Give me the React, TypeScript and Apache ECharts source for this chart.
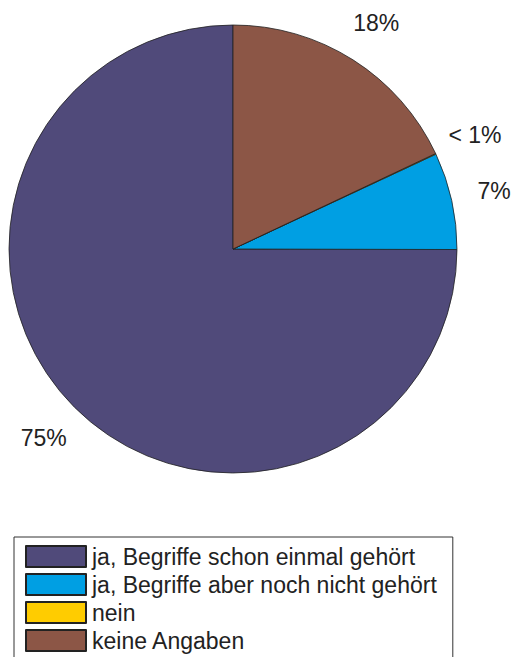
import React, { useEffect, useRef } from "react";
import * as echarts from "echarts";

const categories = [
  "ja, Begriffe schon einmal gehört",
  "ja, Begriffe aber noch nicht gehört",
  "nein",
  "keine Angaben",
];
const values = [75, 7, 0.05, 18];
const valueLabels = ["75%", "7%", "< 1%", "18%"];
const colors = ["#504a7a", "#009fe3", "#ffcc00", "#8c5646"];

const FONT = "'Liberation Sans', Arial, Helvetica, sans-serif";
const R = 224;
const CENTER = [233, 249];

export default function App() {
  const ref = useRef<HTMLDivElement>(null);
  useEffect(() => {
    if (!ref.current) return;
    const chart = echarts.init(ref.current, undefined, { renderer: "svg" });
    const data = categories.map((name, i) => ({
      name,
      value: values[i],
      itemStyle: { color: colors[i] },
    }));
    chart.setOption({
      animation: false,
      backgroundColor: "#ffffff",
      legend: {
        orient: "vertical",
        left: 14,
        top: 537,
        height: 300,
        data: categories,
        itemWidth: 60,
        itemHeight: 21,
        itemGap: 5,
        padding: [8, 16, 8, 11],
        borderColor: "#333",
        borderWidth: 1,
        selectedMode: false,
        icon: "rect",
        textStyle: {
          fontFamily: FONT,
          fontSize: 23,
          color: "#222",
          lineHeight: 21,
          padding: [0, 0, 0, 1],
        },
      },
      series: [
        {
          type: "pie",
          center: CENTER,
          radius: [0, R],
          startAngle: 90,
          clockwise: false,
          silent: true,
          avoidLabelOverlap: false,
          label: { show: false },
          labelLine: { show: false },
          itemStyle: { borderColor: "#222", borderWidth: 0.8 },
          emphasis: { disabled: true },
          data,
        },
        {
          type: "pie",
          center: CENTER,
          radius: [R * 1.08, R * 1.28],
          startAngle: 90,
          clockwise: false,
          silent: true,
          avoidLabelOverlap: false,
          itemStyle: { color: "rgba(0,0,0,0)", borderWidth: 0 },
          emphasis: { disabled: true },
          labelLine: { show: false },
          label: {
            show: true,
            position: "inside",
            fontFamily: FONT,
            fontSize: 23,
            color: "#222",
            formatter: (p: any) => valueLabels[p.dataIndex],
          },
          data: categories.map((name, i) => ({ name, value: values[i] })),
        },
      ],
    });
    return () => chart.dispose();
  }, []);
  return (
    <div
      ref={ref}
      style={{ position: "absolute", left: 0, top: 0, width: 512, height: 657 }}
    />
  );
}
